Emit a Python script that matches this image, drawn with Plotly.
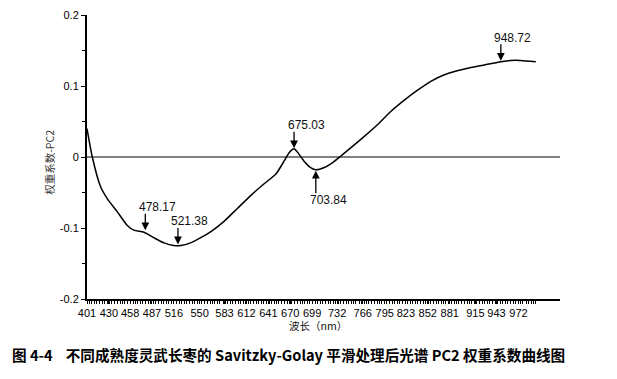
import plotly.graph_objects as go
import numpy as np

# Wavelength (nm) and PC2 weight coefficients
wavelength = [401, 408, 419, 428, 441, 454, 463, 476.5, 490, 503, 516, 525, 538, 551,
              565, 582, 600, 618, 635, 651, 662, 668.5, 675, 679.5, 688, 697, 704, 715,
              726, 737, 750, 768, 785, 803, 821, 838, 856, 874, 891, 909, 927, 949,
              962, 975, 995]
pc2_weight = [0.040, 0.000, -0.042, -0.059, -0.077, -0.096, -0.103, -0.106, -0.114, -0.121,
              -0.1247, -0.1247, -0.121, -0.114, -0.105, -0.091, -0.0725, -0.054, -0.038,
              -0.024, -0.0055, 0.006, 0.0115, 0.007, -0.0055, -0.0148, -0.018, -0.0148,
              -0.0078, 0.0014, 0.0129, 0.029, 0.045, 0.064, 0.080, 0.0937, 0.1066, 0.1159,
              0.1214, 0.126, 0.1297, 0.134, 0.136, 0.136, 0.134]

# Marked feature wavelengths and the curve value at each
peak_wl = [478.17, 521.38, 675.03, 703.84, 948.72]
peak_val = [-0.1047, -0.1245, 0.011, -0.0178, 0.134]
peak_dir = ["down", "down", "down", "up", "down"]

x_ticks = [401, 430, 458, 487, 516, 550, 583, 612, 641, 670, 699, 732, 766, 795,
           823, 852, 881, 915, 943, 972]
y_ticks = [-0.2, -0.1, 0, 0.1, 0.2]
y_ticktext = ["-0.2", "-0.1", "0", "0.1", "0.2"]

caption = ("图 4-4&nbsp;&nbsp;&nbsp;&nbsp;不同成熟度灵武长枣的 Savitzky-Golay "
           "平滑处理后光谱 PC2 权重系数曲线图")

fig = go.Figure()
fig.add_trace(go.Scatter(
    x=wavelength, y=pc2_weight, mode="lines",
    line=dict(color="black", width=1.5, shape="spline", smoothing=0.6),
    showlegend=False, hoverinfo="skip"))

# zero line across the plot
fig.add_hline(y=0, line=dict(color="black", width=1))

annos = []
for wl, v, d in zip(peak_wl, peak_val, peak_dir):
    if d == "down":
        annos.append(dict(x=wl, y=v, ax=0, ay=-19, text="", showarrow=True,
                          arrowhead=2, arrowsize=1.2, arrowwidth=1.3, arrowcolor="black",
                          standoff=1))
        annos.append(dict(x=wl, y=v, text=f"{wl:.2f}", showarrow=False,
                          xshift=12, yshift=24, xanchor="center", yanchor="middle",
                          font=dict(family="Liberation Sans, Arial", size=12, color="#111")))
    else:
        annos.append(dict(x=wl, y=v, ax=0, ay=25, text="", showarrow=True,
                          arrowhead=2, arrowsize=1.2, arrowwidth=1.3, arrowcolor="black",
                          standoff=1))
        annos.append(dict(x=wl, y=v, text=f"{wl:.2f}", showarrow=False,
                          xshift=13, yshift=-30, xanchor="center", yanchor="middle",
                          font=dict(family="Liberation Sans, Arial", size=12, color="#111")))

# axis titles and caption
annos.append(dict(xref="paper", yref="paper", x=0.488, y=-0.095, text="波长（nm）",
                  showarrow=False, xanchor="center", yanchor="middle",
                  font=dict(family="Noto Sans CJK SC", size=10.5, color="#111")))
annos.append(dict(xref="paper", yref="paper", x=-0.078, y=0.48, text="权重系数-PC2",
                  textangle=-90, showarrow=False, xanchor="center", yanchor="middle",
                  font=dict(family="Noto Sans CJK SC", size=10.5, color="#333")))
annos.append(dict(xref="paper", yref="paper", x=-0.163, y=-0.195, text=caption,
                  showarrow=False, xanchor="left", yanchor="middle",
                  font=dict(family="Noto Sans CJK SC", size=14.6, color="black", weight="bold")))

# x ticks: small ticks at every sampled wavelength step, labels at the named ones
minor_x = [int(v) for v in np.arange(401, 998, 3.4)]
all_x = sorted(set(minor_x) | set(x_ticks))
all_text = [str(v) if v in x_ticks else "" for v in all_x]

fig.update_layout(
    width=609, height=371,
    margin=dict(l=79, r=57, t=1, b=80),
    paper_bgcolor="white", plot_bgcolor="white",
    annotations=annos,
    xaxis=dict(range=[401, 1027], tickmode="array", tickvals=all_x,
               ticktext=all_text, tickangle=0,
               showgrid=False, zeroline=False, showline=True, linecolor="black",
               linewidth=1.5, ticks="outside", ticklen=3, tickwidth=1, tickcolor="black",
               ticklabelstandoff=0,
               tickfont=dict(family="Liberation Sans, Arial", size=11, color="black")),
    yaxis=dict(range=[-0.2, 0.2], tickmode="array", tickvals=y_ticks, ticktext=y_ticktext,
               showgrid=False, zeroline=False, showline=True, linecolor="black",
               linewidth=2, ticks="outside", ticklen=4, tickcolor="black", tickwidth=1,
               ticklabeloverflow="allow",
               tickfont=dict(family="Liberation Sans, Arial", size=11, color="black"),
               minor=dict(dtick=0.05, tick0=0, ticks="outside",
                          ticklen=3, tickcolor="black", showgrid=False)),
)

fig.write_html("out.html")
